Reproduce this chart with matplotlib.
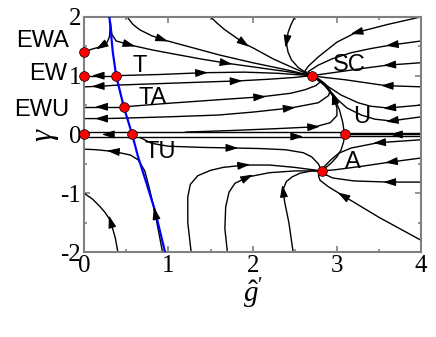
import numpy as np
import matplotlib.pyplot as plt

plt.rcParams['axes.unicode_minus'] = False
plt.rcParams['mathtext.fontset'] = 'custom'
plt.rcParams['mathtext.rm'] = 'Liberation Serif'
plt.rcParams['mathtext.it'] = 'Liberation Serif:italic'

# separatrix (blue)
blue_x = [0.30, 0.34, 0.38, 0.47, 0.57, 0.64, 0.74, 0.84, 0.96]
blue_y = [2.0, 1.40, 1.0, 0.47, 0.0, -0.38, -0.83, -1.29, -2.0]

# fixed points
fp_x = [0, 0, 0, 0.38, 0.47, 0.57, 2.70, 3.09, 2.82]
fp_y = [1.40, 1.0, 0.0, 1.0, 0.47, 0.0, 1.0, 0.0, -0.62]

labels = ['EWA', 'EW', 'EWU', 'T', 'TA', 'TU', 'SC', 'U', 'A']
label_x = [-0.49, -0.43, -0.50, 0.66, 0.81, 0.90, 3.15, 3.29, 3.19]
label_y = [1.59, 1.03, 0.42, 1.17, 0.62, -0.30, 1.18, 0.30, -0.47]

# flow lines flowing towards gamma axis (x = 0)
left_flows = [
    ([0.31, 0.31, 0.30, 0.27, 0.19, 0.09, 0.0], [1.93, 1.82, 1.66, 1.56, 1.49, 1.45, 1.40]),
    ([0.38, 0.2, 0.0], [1.0, 1.0, 1.0]),
    ([0.40, 0.2, 0.0], [0.84, 0.82, 0.81]),
    ([0.47, 0.2, 0.0], [0.47, 0.47, 0.47]),
    ([0.52, 0.25, 0.0], [0.28, 0.27, 0.27]),
    ([0.57, 0.0], [0.035, 0.035]),
    ([0.57, 0.0], [-0.035, -0.035]),
    ([0.93, 0.85, 0.78, 0.72, 0.64, 0.55, 0.35, 0.15, 0.0],
     [-2.0, -1.4, -0.95, -0.62, -0.43, -0.35, -0.29, -0.26, -0.25]),
    ([0.40, 0.37, 0.31, 0.25, 0.19, 0.10, 0.0], [-2.0, -1.76, -1.46, -1.33, -1.23, -1.10, -1.0]),
]

# flow lines ending in SC
sc_flows = [
    ([0.51, 0.58, 0.66, 0.80, 0.94, 1.3, 1.61, 2.0, 2.4, 2.70],
     [2.0, 1.87, 1.78, 1.68, 1.61, 1.47, 1.35, 1.22, 1.10, 1.0]),
    ([0.31, 0.33, 0.38, 0.55, 0.80, 1.02, 1.40, 1.70, 2.1, 2.45, 2.70],
     [1.93, 1.70, 1.59, 1.52, 1.44, 1.38, 1.28, 1.21, 1.13, 1.06, 1.0]),
    ([1.50, 1.58, 1.67, 1.80, 1.91, 2.02, 2.25, 2.50, 2.70],
     [2.0, 1.89, 1.78, 1.65, 1.54, 1.46, 1.28, 1.12, 1.0]),
    ([0.38, 0.9, 1.41, 1.9, 2.3, 2.70], [1.0, 1.02, 1.05, 1.06, 1.04, 1.0]),
    ([0.40, 1.0, 1.6, 1.82, 2.2, 2.5, 2.70], [0.84, 0.87, 0.90, 0.91, 0.94, 0.97, 1.0]),
    ([0.47, 1.0, 1.59, 2.10, 2.45, 2.62, 2.75, 2.80, 2.76, 2.70],
     [0.47, 0.53, 0.59, 0.64, 0.70, 0.76, 0.83, 0.89, 0.96, 1.0]),
    ([0.52, 1.0, 1.59, 2.0, 2.45, 2.78, 2.90, 2.92, 2.86, 2.78, 2.70],
     [0.28, 0.30, 0.33, 0.38, 0.45, 0.54, 0.66, 0.75, 0.86, 0.95, 1.0]),
    ([1.2, 1.8, 2.3, 2.74, 2.92, 3.0, 3.0, 2.96, 2.85, 2.70],
     [0.04, 0.07, 0.10, 0.13, 0.20, 0.32, 0.45, 0.64, 0.85, 1.0]),
    ([3.09, 3.07, 3.03, 2.96, 2.85, 2.76, 2.70], [0.0, 0.2, 0.42, 0.64, 0.85, 0.95, 1.0]),
    ([2.50, 2.45, 2.42, 2.40, 2.42, 2.46, 2.54, 2.62, 2.70],
     [2.0, 1.85, 1.73, 1.56, 1.40, 1.27, 1.14, 1.06, 1.0]),
    ([4.0, 3.6, 3.22, 3.0, 2.78, 2.66, 2.62, 2.66, 2.70],
     [2.0, 1.87, 1.73, 1.57, 1.32, 1.16, 1.08, 1.03, 1.0]),
    ([4.0, 3.64, 3.40, 3.17, 2.95, 2.78, 2.66, 2.70],
     [1.59, 1.52, 1.46, 1.39, 1.29, 1.18, 1.07, 1.0]),
    ([4.0, 3.61, 3.34, 3.0, 2.70], [1.22, 1.18, 1.13, 1.06, 1.0]),
    ([4.0, 3.58, 3.10, 2.85, 2.70], [0.81, 0.83, 0.93, 0.97, 1.0]),
    ([4.0, 3.61, 3.40, 3.25, 3.05, 2.90, 2.78, 2.70], [0.50, 0.45, 0.48, 0.54, 0.67, 0.81, 0.93, 1.0]),
    ([4.0, 3.64, 3.45, 3.29, 3.12, 3.01, 2.92, 2.80, 2.70],
     [0.30, 0.23, 0.26, 0.33, 0.45, 0.59, 0.74, 0.90, 1.0]),
]

# flow lines along gamma = 0 ending in U
u_flows = [
    ([0.57, 3.09], [0.035, 0.035]),
    ([0.57, 3.09], [-0.035, -0.035]),
    ([4.0, 3.09], [0.03, 0.03]),
    ([4.0, 3.09], [0.0, 0.0]),
    ([4.0, 3.09], [-0.03, -0.03]),
]

# flow lines ending in A
a_flows = [
    ([0.66, 0.8, 1.0, 1.4, 1.77, 2.1, 2.39, 2.6, 2.70, 2.78, 2.82],
     [-0.05, -0.15, -0.20, -0.22, -0.23, -0.24, -0.26, -0.31, -0.38, -0.50, -0.62]),
    ([1.27, 1.23, 1.23, 1.26, 1.35, 1.5, 1.65, 1.91, 2.2, 2.5, 2.82],
     [-2.0, -1.5, -1.06, -0.85, -0.70, -0.61, -0.56, -0.52, -0.52, -0.56, -0.62]),
    ([1.70, 1.67, 1.68, 1.72, 1.79, 1.95, 2.2, 2.5, 2.82],
     [-2.0, -1.6, -1.23, -0.98, -0.83, -0.72, -0.65, -0.62, -0.62]),
    ([2.48, 2.43, 2.38, 2.36, 2.40, 2.47, 2.56, 2.70, 2.82],
     [-2.0, -1.5, -1.15, -0.94, -0.80, -0.72, -0.66, -0.62, -0.62]),
    ([3.09, 3.08, 3.05, 3.0, 2.93, 2.87, 2.82], [0.0, -0.12, -0.26, -0.38, -0.49, -0.56, -0.62]),
    ([4.0, 3.49, 3.17, 3.02, 2.93, 2.86, 2.82], [-0.09, -0.14, -0.23, -0.32, -0.43, -0.53, -0.62]),
    ([4.0, 3.63, 3.3, 2.98, 2.82], [-0.40, -0.47, -0.54, -0.60, -0.62]),
    ([4.0, 3.61, 3.2, 2.95, 2.86, 2.82], [-0.81, -0.81, -0.79, -0.74, -0.68, -0.62]),
    ([4.0, 3.5, 3.06, 2.9, 2.80, 2.78, 2.82], [-1.80, -1.41, -1.03, -0.89, -0.78, -0.70, -0.62]),
]

arrow_x = [0.19, 0.15, 0.15, 0.19, 0.19, 0.27, 0.33, 0.31, 0.84,
           0.94, 0.55, 1.91, 1.41, 1.70, 1.82, 2.10, 2.45, 2.74, 2.54, 1.77, 1.91, 1.95, 2.36, 2.40, 2.96,
           3.22, 3.64, 3.61, 3.58, 3.61, 3.64, 3.69, 3.49, 3.63, 3.61, 3.06]
arrow_y = [1.49, 1.0, 0.82, 0.47, 0.27, 0.0, -0.285, -1.46, -1.32,
           1.61, 1.52, 1.54, 1.05, 1.21, 0.91, 0.64, 0.45, 0.13, -0.035, -0.23, -0.52, -0.72, -0.94, 1.56, 0.64,
           1.73, 1.52, 1.18, 0.83, 0.45, 0.23, 0.0, -0.14, -0.47, -0.81, -1.03]

fig = plt.figure(figsize=(4.36, 3.37), dpi=100)
ax = fig.add_axes([0.193, 0.252, 0.773, 0.698])
ax.set_xlim(0, 4)
ax.set_ylim(-2, 2)

all_flows = left_flows + sc_flows + u_flows + a_flows
for fx, fy in all_flows:
    ax.plot(fx, fy, color='k', lw=1.0, zorder=2, solid_capstyle='round')

ax.plot(blue_x, blue_y, color='#0000ff', lw=1.6, zorder=3)

# arrow heads: direction taken from the nearest flow segment
segs = []
for fx, fy in all_flows:
    p = ax.transData.transform(np.column_stack([fx, fy]))
    for i in range(len(p) - 1):
        segs.append((p[i], p[i + 1]))
inv = ax.transData.inverted()
for axx, ayy in zip(arrow_x, arrow_y):
    q = ax.transData.transform((axx, ayy))
    best = None
    for a, b in segs:
        d = b - a
        t = np.clip(np.dot(q - a, d) / np.dot(d, d), 0, 1)
        dist = np.linalg.norm(a + t * d - q)
        if best is None or dist < best[0]:
            best = (dist, d / np.linalg.norm(d))
    u = best[1]
    tip = inv.transform(q + 5 * u)
    tail = inv.transform(q - 5 * u)
    ax.annotate('', xy=tip, xytext=tail, zorder=4,
                arrowprops=dict(arrowstyle='-|>,head_length=0.75,head_width=0.24',
                                color='k', lw=0.8, shrinkA=0, shrinkB=0))

ax.plot(fp_x, fp_y, 'o', color='#ff0000', ms=7, mec='k', mew=0.5, zorder=5, clip_on=False)

for t, lx, ly in zip(labels, label_x, label_y):
    ax.text(lx, ly, t, fontsize=17, family='Liberation Sans', ha='center', va='center', zorder=6)

ax.set_xticks([0, 1, 2, 3, 4])
ax.set_xticks(np.arange(0.5, 4, 1), minor=True)
ax.set_yticks([-2, -1, 0, 1, 2])
ax.set_yticks(np.arange(-1.5, 2, 1), minor=True)
ax.set_xticklabels(['0', '1', '2', '3', '4'], family='Liberation Serif', fontsize=18)
ax.set_yticklabels(['-2', '-1', '0', '1', '2'], family='Liberation Serif', fontsize=18)
ax.tick_params(which='both', direction='in', top=True, right=True, color='#808080', width=1.2)
ax.tick_params(which='major', length=4, pad=2)
ax.tick_params(which='minor', length=2.5)
for s in ax.spines.values():
    s.set_color('#808080')
    s.set_linewidth(1.5)

ax.set_xlabel(r"$\hat{g}'$", fontsize=21, labelpad=0)
ax.set_ylabel(r"$\gamma$", fontsize=22, labelpad=0)

fig.savefig('out.png', dpi=100)
